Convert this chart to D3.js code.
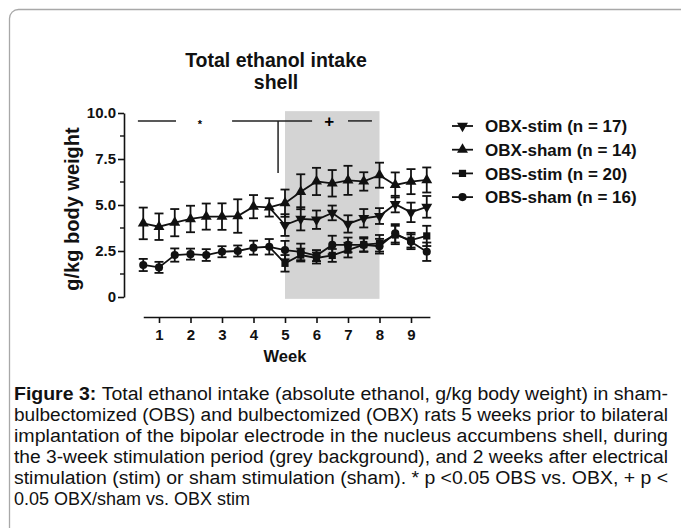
<!doctype html>
<html lang="en">
<head>
    <meta charset="utf-8" />
    <title>Total ethanol intake - shell</title>
    <script src="https://d3js.org/d3.v7.min.js"></script>
    <style>
        body {
            margin: 0;
            padding: 0;
            background: white;
            font-family: 'Liberation Sans', Arial, sans-serif;
        }
        #chart {
            position: absolute;
            top: 0;
            left: 0;
        }
        text {
            font-family: 'Liberation Sans', Arial, sans-serif;
        }
    </style>
</head>
<body>
    <svg id="chart" width="681" height="528"></svg>

    <script>
        // Semanas: línea base agrupada (0.5-4.5) y periodo posterior por grupo (5-9.5)
        const baseWeeks = [0.5, 1, 1.5, 2, 2.5, 3, 3.5, 4, 4.5];
        const postWeeks = [5, 5.5, 6, 6.5, 7, 7.5, 8, 8.5, 9, 9.5];

        // Valores base (OBX y OBS agrupados)
        const obxBase = [4.0, 3.82, 4.04, 4.24, 4.37, 4.37, 4.4, 4.91, 4.87];
        const obxBaseSem = [0.86, 0.72, 0.74, 0.72, 0.71, 0.72, 0.91, 0.63, 0.5];
        const obsBase = [1.74, 1.61, 2.28, 2.33, 2.28, 2.46, 2.5, 2.68, 2.73];
        const obsBaseSem = [0.33, 0.3, 0.36, 0.3, 0.32, 0.3, 0.3, 0.38, 0.42];

        // Valores por grupo desde la semana 5
        const obxStim = [3.91, 4.25, 4.2, 4.57, 3.97, 4.28, 4.4, 5.05, 4.6, 4.9];
        const obxStimSem = [0.59, 0.63, 0.5, 0.4, 0.47, 0.5, 0.43, 0.45, 0.53, 0.59];
        const obxSham = [5.1, 5.72, 6.28, 6.18, 6.34, 6.28, 6.62, 6.09, 6.27, 6.36];
        const obxShamSem = [0.74, 0.95, 0.74, 0.72, 0.79, 0.5, 0.68, 0.68, 0.68, 0.68];
        const obsStim = [1.83, 2.28, 2.12, 2.26, 2.55, 2.85, 2.92, 3.37, 3.09, 3.32];
        const obsStimSem = [0.45, 0.35, 0.3, 0.35, 0.4, 0.4, 0.45, 0.5, 0.4, 0.55];
        const obsSham = [2.55, 2.45, 2.25, 2.83, 2.83, 2.83, 2.76, 3.46, 3.0, 2.46];
        const obsShamSem = [0.5, 0.45, 0.3, 0.5, 0.4, 0.35, 0.4, 0.5, 0.4, 0.5];

        const legendLabels = ['OBX-stim (n = 17)', 'OBX-sham (n = 14)', 'OBS-stim (n = 20)', 'OBS-sham (n = 16)'];
        const yTicks = [0, 2.5, 5, 7.5, 10];
        const yMinorTicks = [1.25, 3.75, 6.25, 8.75];
        const xTicks = [1, 2, 3, 4, 5, 6, 7, 8, 9];
        const stimPeriod = [5, 8];

        // Barras de significación: y, tramos horizontales, línea vertical, símbolos
        const sigY = 9.57;
        const sigSegments = [[0.33, 1.54], [3.32, 5.86], [7.0, 7.76]];
        const sigVertical = { x: 4.78, y2: 6.74 };
        const sigMarks = [{ x: 2.3, text: '*' }, { x: 6.4, text: '+' }];

        const captionLines = [
            'Total ethanol intake (absolute ethanol, g/kg body weight) in sham-',
            'bulbectomized (OBS) and bulbectomized (OBX) rats 5 weeks prior to bilateral',
            'implantation of the bipolar electrode in the nucleus accumbens shell, during',
            'the 3-week stimulation period (grey background), and 2 weeks after electrical',
            'stimulation (stim) or sham stimulation (sham). * p <0.05 OBS vs. OBX, + p <',
            '0.05 OBX/sham vs. OBX stim'
        ];

        const svg = d3.select('#chart');

        // Marco redondeado de la figura
        svg.append('rect')
            .attr('x', 9.5).attr('y', 9.5)
            .attr('width', 700).attr('height', 560)
            .attr('rx', 9)
            .attr('fill', 'none')
            .attr('stroke', '#a8a8a8')
            .attr('stroke-width', 1.3);

        // Escalas
        const x = d3.scaleLinear().domain([0.5, 9.6]).range([143.25, 429.9]);
        const y = d3.scaleLinear().domain([0, 10]).range([297, 113]);

        // Fondo gris del periodo de estimulación
        svg.append('rect')
            .attr('x', x(stimPeriod[0]))
            .attr('y', y(10.1))
            .attr('width', x(stimPeriod[1]) - x(stimPeriod[0]))
            .attr('height', y(-0.1) - y(10.1))
            .attr('fill', '#d4d4d4');

        // Título
        const title = svg.append('text')
            .attr('x', 276).attr('y', 67)
            .attr('text-anchor', 'middle')
            .style('font-weight', 'bold')
            .style('font-size', '19.5px')
            .attr('fill', '#111');
        title.append('tspan').attr('x', 276).text('Total ethanol intake');
        title.append('tspan').attr('x', 276).attr('dy', 22).text('shell');

        // Eje Y
        const yAxis = svg.append('g')
            .attr('transform', 'translate(124,0)')
            .call(d3.axisLeft(y)
                .tickValues(yTicks)
                .tickFormat(d => d === 0 ? '0' : d.toFixed(1))
                .tickSize(6)
                .tickPadding(2)
                .tickSizeOuter(0));
        yAxis.selectAll('line, path').attr('stroke', '#111').attr('stroke-width', 1.6);
        yAxis.selectAll('text')
            .style('font-family', "'Liberation Sans', Arial, sans-serif")
            .style('font-size', '15px')
            .style('font-weight', 'bold')
            .attr('fill', '#111');
        yAxis.selectAll('.minor')
            .data(yMinorTicks)
            .enter()
            .append('line')
            .attr('x1', -4).attr('x2', 0)
            .attr('y1', d => y(d)).attr('y2', d => y(d))
            .attr('stroke', '#111').attr('stroke-width', 1.4);

        svg.append('text')
            .attr('transform', 'translate(79,' + (y(5) + 4) + ') rotate(-90)')
            .attr('text-anchor', 'middle')
            .style('font-weight', 'bold')
            .style('font-size', '20px')
            .attr('fill', '#111')
            .text('g/kg body weight');

        // Eje X (separado del área de datos)
        const xAxis = svg.append('g')
            .attr('transform', 'translate(0,317)')
            .call(d3.axisBottom(x)
                .tickValues(xTicks)
                .tickFormat(d3.format('d'))
                .tickSize(6)
                .tickPadding(6.5)
                .tickSizeOuter(0));
        xAxis.selectAll('line, path').attr('stroke', '#111').attr('stroke-width', 1.6);
        xAxis.selectAll('text')
            .style('font-family', "'Liberation Sans', Arial, sans-serif")
            .style('font-size', '15px')
            .style('font-weight', 'bold')
            .attr('fill', '#111');

        svg.append('text')
            .attr('x', x(5)).attr('y', 362)
            .attr('text-anchor', 'middle')
            .style('font-weight', 'bold')
            .style('font-size', '16.5px')
            .attr('fill', '#111')
            .text('Week');

        // Significación
        svg.selectAll('.sig')
            .data(sigSegments)
            .enter()
            .append('line')
            .attr('x1', d => x(d[0])).attr('x2', d => x(d[1]))
            .attr('y1', y(sigY)).attr('y2', y(sigY))
            .attr('stroke', '#222').attr('stroke-width', 1.5);
        svg.append('line')
            .attr('x1', x(sigVertical.x)).attr('x2', x(sigVertical.x))
            .attr('y1', y(sigY)).attr('y2', y(sigVertical.y2))
            .attr('stroke', '#222').attr('stroke-width', 1.5);
        svg.selectAll('.sigmark')
            .data(sigMarks)
            .enter()
            .append('text')
            .attr('x', d => x(d.x))
            .attr('y', d => y(sigY) + (d.text === '*' ? 7 : 6))
            .attr('text-anchor', 'middle')
            .style('font-weight', 'bold')
            .style('font-size', d => d.text === '*' ? '11px' : '17px')
            .text(d => d.text);

        // Construimos las series (los grupos parten del último punto base)
        const zip = (ws, vs, ss) => ws.map((w, i) => ({ w: w, v: vs[i], s: ss[i] }));
        const obxBasePts = zip(baseWeeks, obxBase, obxBaseSem);
        const obsBasePts = zip(baseWeeks, obsBase, obsBaseSem);
        const series = [
            { name: legendLabels[0], shape: 'down', pts: zip(postWeeks, obxStim, obxStimSem), from: obxBasePts },
            { name: legendLabels[1], shape: 'up', pts: zip(postWeeks, obxSham, obxShamSem), from: obxBasePts },
            { name: legendLabels[2], shape: 'square', pts: zip(postWeeks, obsStim, obsStimSem), from: obsBasePts },
            { name: legendLabels[3], shape: 'circle', pts: zip(postWeeks, obsSham, obsShamSem), from: obsBasePts }
        ];
        const bases = [
            { shape: 'up', pts: obxBasePts },
            { shape: 'circle', pts: obsBasePts }
        ];

        const line = d3.line().x(d => x(d.w)).y(d => y(d.v));

        const symbolFor = {
            up: d3.symbol().type(d3.symbolTriangle).size(52),
            down: d3.symbol().type(d3.symbolTriangle).size(52),
            square: d3.symbol().type(d3.symbolSquare).size(52),
            circle: d3.symbol().type(d3.symbolCircle).size(52)
        };
        const rotFor = { up: 0, down: 180, square: 0, circle: 0 };

        // Líneas
        bases.forEach(b => {
            svg.append('path').datum(b.pts).attr('d', line)
                .attr('fill', 'none').attr('stroke', '#111').attr('stroke-width', 1.8);
        });
        series.forEach(s => {
            const all = [s.from[s.from.length - 1]].concat(s.pts);
            svg.append('path').datum(all).attr('d', line)
                .attr('fill', 'none').attr('stroke', '#111').attr('stroke-width', 1.8);
        });

        // Barras de error y marcadores
        function drawPoints(pts, shape) {
            const g = svg.append('g');
            const eb = g.selectAll('g.eb').data(pts).enter().append('g');
            eb.append('line')
                .attr('x1', d => x(d.w)).attr('x2', d => x(d.w))
                .attr('y1', d => y(d.v + d.s)).attr('y2', d => y(d.v - d.s));
            eb.append('line')
                .attr('x1', d => x(d.w) - 4.5).attr('x2', d => x(d.w) + 4.5)
                .attr('y1', d => y(d.v + d.s)).attr('y2', d => y(d.v + d.s));
            eb.append('line')
                .attr('x1', d => x(d.w) - 4.5).attr('x2', d => x(d.w) + 4.5)
                .attr('y1', d => y(d.v - d.s)).attr('y2', d => y(d.v - d.s));
            eb.selectAll('line').attr('stroke', '#111').attr('stroke-width', 1.8);
            g.selectAll('path').data(pts).enter().append('path')
                .attr('d', symbolFor[shape])
                .attr('transform', d => 'translate(' + x(d.w) + ',' + y(d.v) + ') rotate(' + rotFor[shape] + ')')
                .attr('fill', '#111');
        }
        bases.forEach(b => drawPoints(b.pts, b.shape));
        series.forEach(s => drawPoints(s.pts, s.shape));

        // Leyenda
        const legend = svg.append('g').attr('transform', 'translate(452,126)');
        const item = legend.selectAll('g').data(series).enter().append('g')
            .attr('transform', (d, i) => 'translate(0,' + i * 23.7 + ')');
        item.append('line')
            .attr('x1', 0).attr('x2', 21)
            .attr('stroke', '#111').attr('stroke-width', 1.8);
        item.append('path')
            .attr('d', d => symbolFor[d.shape]())
            .attr('transform', d => 'translate(10.5,0) rotate(' + rotFor[d.shape] + ')')
            .attr('fill', '#111');
        item.append('text')
            .attr('x', 33).attr('dy', '0.36em')
            .style('font-weight', 'bold')
            .style('font-size', '17px')
            .attr('fill', '#111')
            .text(d => d.name);

        // Pie de figura: cada línea ajustada al ancho (justificada)
        const cap = svg.append('g').attr('transform', 'translate(14,400)');
        cap.selectAll('text')
            .data(captionLines)
            .enter()
            .append('text')
            .attr('x', 0)
            .attr('y', (d, i) => i * 21)
            .attr('textLength', (d, i) => i < captionLines.length - 1 ? 654 : null)
            .attr('lengthAdjust', 'spacingAndGlyphs')
            .style('font-size', '18px')
            .attr('fill', '#111')
            .each(function (d, i) {
                const el = d3.select(this);
                if (i === 0) el.append('tspan').style('font-weight', 'bold').text('Figure 3: ');
                el.append('tspan').text(d);
            });
    </script>
</body>
</html>
